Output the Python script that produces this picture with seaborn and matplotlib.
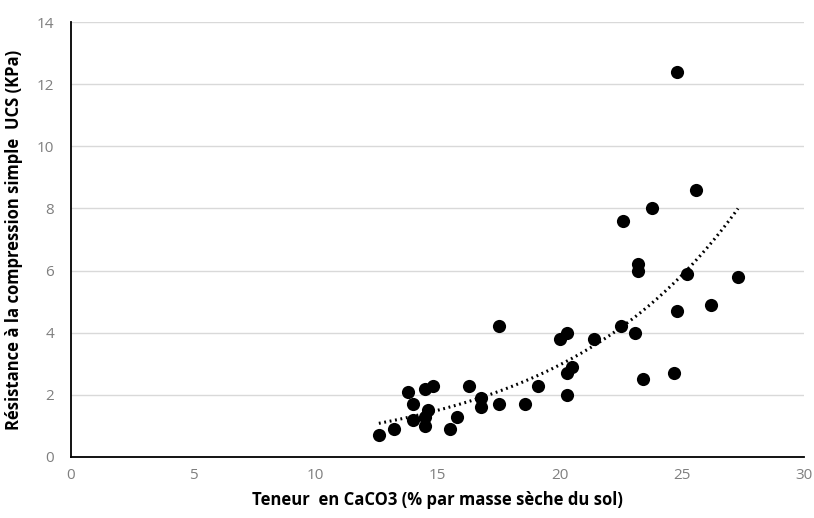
import numpy as np
import pandas as pd
import seaborn as sns
import matplotlib.pyplot as plt

# teneur en CaCO3 (%) and UCS (KPa)
caco3 = [12.6, 13.2, 13.8, 14.0, 14.0, 14.5, 14.8, 14.6, 14.5, 14.5,
         15.5, 15.8, 16.3, 16.8, 16.8, 17.5, 17.5, 18.6, 19.1, 20.3,
         20.3, 20.5, 20.0, 20.3, 21.4, 22.5, 23.1, 22.6, 23.2, 23.2,
         23.8, 23.4, 24.7, 24.8, 24.8, 25.2, 25.6, 26.2, 27.3]
ucs = [0.7, 0.9, 2.1, 1.7, 1.2, 2.2, 2.3, 1.5, 1.3, 1.0,
       0.9, 1.3, 2.3, 1.9, 1.6, 1.7, 4.2, 1.7, 2.3, 2.0,
       2.7, 2.9, 3.8, 4.0, 3.8, 4.2, 4.0, 7.6, 6.2, 6.0,
       8.0, 2.5, 2.7, 4.7, 12.4, 5.9, 8.6, 4.9, 5.8]

x_ticks = [0, 5, 10, 15, 20, 25, 30]
y_ticks = [0, 2, 4, 6, 8, 10, 12, 14]

df = pd.DataFrame({"caco3": caco3, "ucs": ucs})

sns.set_style("white")
plt.rcParams["font.family"] = ["Open Sans", "DejaVu Sans"]

fig = plt.figure(figsize=(8.14, 5.18), dpi=100)
ax = fig.add_axes([0.0872, 0.1178, 0.9005, 0.8397])

ax.yaxis.grid(True, color="#d9d9d9", lw=1.0, zorder=0)
ax.set_axisbelow(True)

sns.scatterplot(data=df, x="caco3", y="ucs", color="black", s=90,
                edgecolor="black", linewidth=0, ax=ax, zorder=3)

# exponential trend line, fitted like the spreadsheet does
b, ln_a = np.polyfit(df["caco3"], np.log(df["ucs"]), 1)
xs = np.linspace(df["caco3"].min(), df["caco3"].max(), 200)
ax.plot(xs, np.exp(ln_a) * np.exp(b * xs), color="black", lw=2.2,
        ls=(0, (0.6, 1.2)), zorder=2)

ax.set_xlim(0, 30)
ax.set_ylim(0, 14)
ax.set_xticks(x_ticks)
ax.set_yticks(y_ticks)
ax.tick_params(axis="both", direction="in", length=5, width=1.2,
               colors="black", labelcolor="#7f7f7f", labelsize=11, pad=12)
ax.tick_params(axis="x", pad=8)

for side in ["top", "right"]:
    ax.spines[side].set_visible(False)
for side in ["left", "bottom"]:
    ax.spines[side].set_color("black")
    ax.spines[side].set_linewidth(1.3)

ax.set_xlabel("Teneur  en CaCO3 (% par masse sèche du sol)", fontsize=12,
              fontweight="bold", color="black", labelpad=6)
ax.set_ylabel("Résistance à la compression simple  UCS (KPa)", fontsize=12,
              fontweight="bold", color="black", labelpad=10)

fig.savefig("out.png", dpi=100, facecolor="white")
